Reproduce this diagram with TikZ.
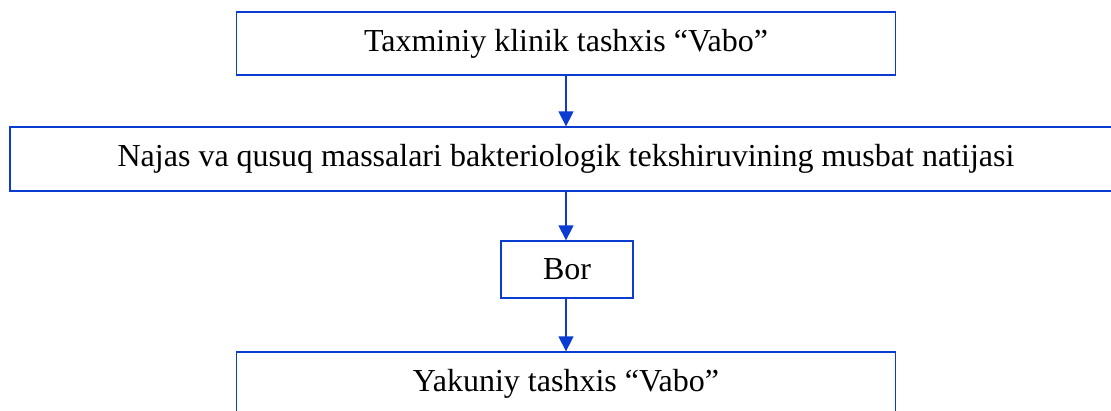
\documentclass[tikz,border=0pt]{standalone}
\usepackage{fontspec}
\setmainfont{Liberation Serif}
\usetikzlibrary{arrows.meta}
\definecolor{boxblue}{RGB}{10,60,210}
\begin{document}
\begin{tikzpicture}[x=1pt,y=-1pt,
  box/.style={draw=boxblue,line width=1.3pt,inner sep=0pt,text=black,
    font=\fontsize{32}{38}\selectfont,minimum height=63pt},
  arr/.style={draw=boxblue,line width=1.3pt,-{Triangle[width=15pt,length=15pt]}}]
\useasboundingbox (0,0) rectangle (1111,410);
\fill[white] (0,0) rectangle (1111,410);
\node[box,minimum width=659pt] (b1) at (566,43.5) {Taxminiy klinik tashxis “Vabo”};
\node[box,minimum width=1112pt,minimum height=64pt] (b2) at (566,159) {Najas va qusuq massalari bakteriologik tekshiruvining musbat natijasi};
\node[box,minimum width=132pt,minimum height=57pt] (b3) at (567,269.5) {Bor};
\node[box,minimum width=659pt] (b4) at (566,383.5) {Yakuniy tashxis “Vabo”};
\draw[arr] (b1.south) -- (b2.north);
\draw[arr] (b2.south) -- (b2.south |- b3.north);
\draw[arr] (b2.south |- b3.south) -- (b4.north);
\end{tikzpicture}
\end{document}
